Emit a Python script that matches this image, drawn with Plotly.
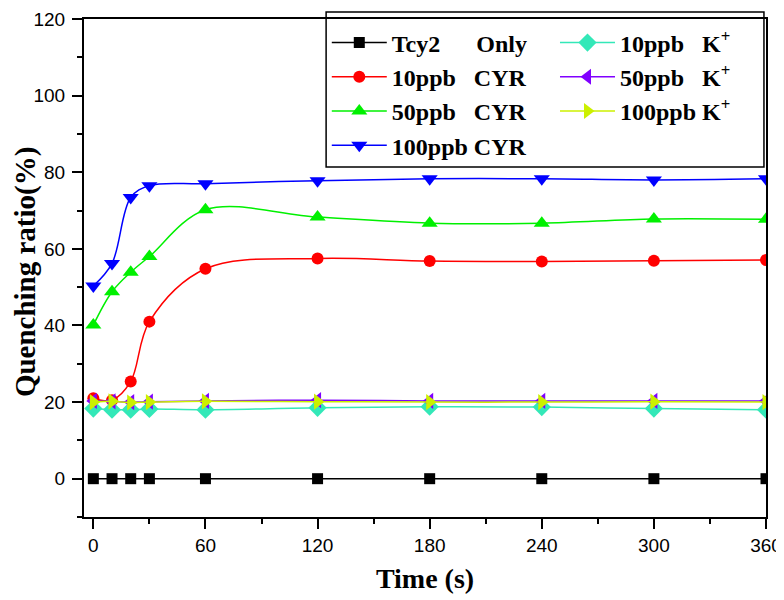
import plotly.graph_objects as go

# Quenching ratio (%) vs time (s)
time_s = [0, 10, 20, 30, 60, 120, 180, 240, 300, 360]
tcy2_only = [0, 0, 0, 0, 0, 0, 0, 0, 0, 0]
cyr_10 = [21.0, 20.5, 25.4, 41.0, 54.8, 57.5, 56.8, 56.7, 56.9, 57.1]
cyr_50 = [40.1, 48.8, 53.9, 58.0, 70.2, 68.3, 66.7, 66.7, 67.8, 67.7]
cyr_100 = [50.3, 56.2, 73.4, 76.5, 77.0, 77.8, 78.3, 78.3, 78.0, 78.3]
k_10 = [18.3, 18.0, 18.0, 18.2, 18.0, 18.5, 18.8, 18.7, 18.3, 18.0]
k_50 = [20.3, 20.2, 20.0, 20.1, 20.3, 20.5, 20.3, 20.3, 20.3, 20.3]
k_100 = [20.0, 20.2, 19.9, 20.0, 20.2, 20.1, 20.0, 20.0, 20.1, 20.0]

NB = "\u00a0"
series = [
    # name, values, colour, symbol, size, legend
    ("Tcy2" + NB * 6 + "Only", tcy2_only, "#000000", "square", 11, "legend"),
    ("10ppb" + NB * 3 + "CYR", cyr_10, "#ff0000", "circle", 12, "legend"),
    ("50ppb" + NB * 3 + "CYR", cyr_50, "#00f000", "triangle-up", 14, "legend"),
    ("100ppb" + NB + "CYR", cyr_100, "#0000ff", "triangle-down", 14, "legend"),
    ("10ppb" + NB * 3 + "K<sup>+</sup>", k_10, "#33e8b8", "diamond", 14, "legend2"),
    ("50ppb" + NB * 3 + "K<sup>+</sup>", k_50, "#8000ff", "triangle-left", 14, "legend2"),
    ("100ppb" + NB + "K<sup>+</sup>", k_100, "#ccf000", "triangle-right", 14, "legend2"),
]

fig = go.Figure()
for name, vals, col, sym, sz, leg in series:
    fig.add_trace(go.Scatter(
        x=time_s, y=vals, name=name, mode="lines+markers",
        line=dict(color=col, width=1.5, shape="spline", smoothing=1),
        marker=dict(color=col, symbol=sym, size=sz),
        legend=leg,
    ))

serif = "Liberation Serif"
sans = "Liberation Sans"

legend_common = dict(
    font=dict(family=serif, size=24, color="black", weight="bold"),
    bgcolor="rgba(0,0,0,0)", borderwidth=0,
    itemwidth=55,
    xanchor="left", yanchor="top", itemclick=False,
)

# page body adds an 8px offset, so the figure is 8px smaller each way
fig.update_layout(
    width=776, height=592,
    margin=dict(l=76, r=18, t=11, b=83),
    plot_bgcolor="white", paper_bgcolor="white",
    legend=dict(x=0.356, y=0.997, **legend_common),
    legend2=dict(x=0.6906, y=0.997, **legend_common),
    shapes=[dict(type="rect", xref="paper", yref="paper",
                 x0=0.355, x1=0.997, y0=0.703, y1=1.014,
                 line=dict(color="black", width=1.5), fillcolor="white", layer="below")],
    annotations=[dict(text="Quenching ratio(%)", textangle=-90, showarrow=False,
                      xref="paper", yref="paper", x=-0.1105, y=0.492,
                      xanchor="left", yanchor="middle", borderpad=0,
                      font=dict(family=serif, size=29, color="black", weight="bold"))],
)

fig.update_xaxes(
    range=[-5, 360], tickvals=[0, 60, 120, 180, 240, 300, 360],
    ticks="outside", ticklen=10, tickwidth=2, tickcolor="black",
    minor=dict(dtick=30, tick0=0, ticks="outside", ticklen=5, tickwidth=2, tickcolor="black"),
    showline=True, linecolor="black", linewidth=2, mirror=True,
    showgrid=False, zeroline=False, automargin=False, ticklabeloverflow="allow",
    tickfont=dict(family=sans, size=19, color="black"),
    title=dict(text="Time (s)", font=dict(family=serif, size=28, color="black", weight="bold"), standoff=14),
)
fig.update_yaxes(
    range=[-10, 120], tickvals=[0, 20, 40, 60, 80, 100, 120],
    ticks="outside", ticklen=10, tickwidth=2, tickcolor="black",
    minor=dict(dtick=10, tick0=0, ticks="outside", ticklen=5, tickwidth=2, tickcolor="black"),
    showline=True, linecolor="black", linewidth=2, mirror=True,
    showgrid=False, zeroline=False, automargin=False, ticklabeloverflow="allow",
    ticklabelstandoff=3,
    tickfont=dict(family=sans, size=19, color="black"),
)

fig.write_html("out.html")
